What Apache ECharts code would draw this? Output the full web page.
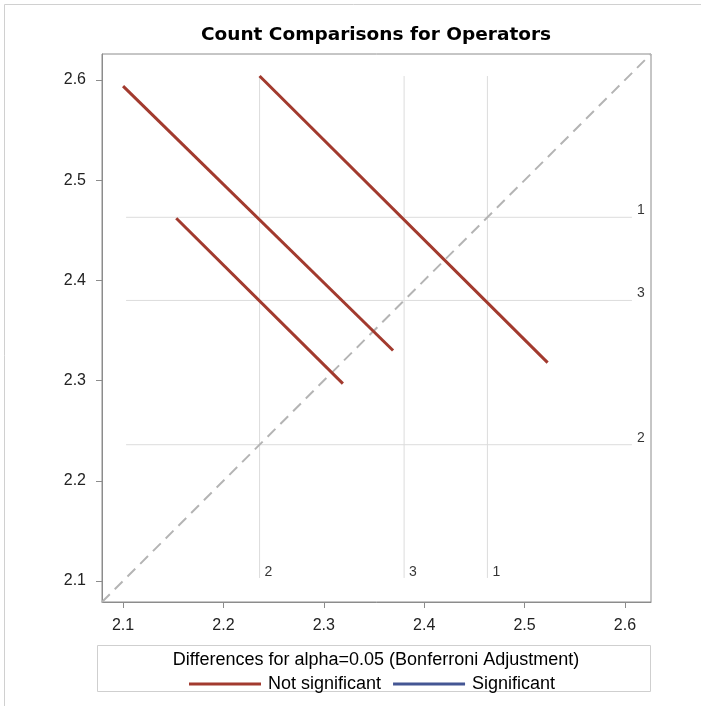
<!DOCTYPE html>
<html>
<head>
<meta charset="utf-8">
<script src="https://cdn.jsdelivr.net/npm/echarts@6/dist/echarts.min.js"></script>
<style>html,body{margin:0;padding:0;background:#fff}#c{width:701px;height:706px}</style>
</head>
<body>
<div id="c"></div>
<script>
// Level means (LS-means) for operators
const levels = ['1', '3', '2'];
const levelMeans = [2.463, 2.380, 2.236];
// Comparison segments (x = row mean, y = column mean), confidence interval endpoints
const compNames = ['2 vs 1', '3 vs 1', '2 vs 3'];
const segStartX = [2.100, 2.236, 2.153];
const segStartY = [2.594, 2.604, 2.462];
const segEndX   = [2.369, 2.523, 2.319];
const segEndY   = [2.330, 2.318, 2.297];
const significant = [false, false, false];
const tickValues = [2.1, 2.2, 2.3, 2.4, 2.5, 2.6];
const axisMin = 2.079, axisMax = 2.626;
const refLo = 2.103, refHiY = 2.604, refHiX = 2.607;

const RED = '#A23A2E', BLUE = '#445694';
const chart = echarts.init(document.getElementById('c'));
const series = [];

// reference lines
levels.forEach((lv, i) => {
  series.push({type:'line', silent:true, symbol:'none', z:1,
    lineStyle:{color:'#dcdcdc', width:1}, data:[[levelMeans[i], refLo],[levelMeans[i], refHiY]]});
  series.push({type:'line', silent:true, symbol:'none', z:1,
    lineStyle:{color:'#dcdcdc', width:1}, data:[[refLo, levelMeans[i]],[refHiX, levelMeans[i]]]});
});
// labels
series.push({type:'scatter', silent:true, symbolSize:0, z:5,
  data: levels.map((lv,i)=>({value:[refHiX, levelMeans[i]], name:lv})),
  label:{show:true, formatter:p=>p.name, position:'right', offset:[0,-7], color:'#000', fontSize:14, fontFamily:'Liberation Sans'}});
series.push({type:'scatter', silent:true, symbolSize:0, z:5,
  data: levels.map((lv,i)=>({value:[levelMeans[i], refLo], name:lv})),
  label:{show:true, formatter:p=>p.name, position:'right', offset:[0,-6], color:'#000', fontSize:14, fontFamily:'Liberation Sans'}});
// diagonal
series.push({type:'line', silent:true, symbol:'none', z:2,
  lineStyle:{color:'#b4b4b4', width:2, type:[11,7]}, data:[[axisMin, axisMin],[axisMax, axisMax]]});
// comparison segments
compNames.forEach((n, i) => {
  series.push({type:'line', name: significant[i] ? 'Significant' : 'Not significant', symbol:'none', z:4,
    color: significant[i] ? BLUE : RED,
    lineStyle:{color: significant[i] ? BLUE : RED, width:3},
    data:[[segStartX[i], segStartY[i]],[segEndX[i], segEndY[i]]]});
});
series.push({type:'line', name:'Significant', symbol:'none', color:BLUE, lineStyle:{color:BLUE, width:3}, data:[]});

const axisCommon = {
  type:'value', min:axisMin, max:axisMax,
  splitLine:{show:false},
  axisLine:{show:true, lineStyle:{color:'#8c8c8c'}},
  axisTick:{show:true, length:6, lineStyle:{color:'#8c8c8c'}, customValues:tickValues},
  axisLabel:{customValues:tickValues, color:'#222', fontSize:16, fontFamily:'Liberation Sans', formatter:v=>v.toFixed(1)}
};

chart.setOption({
  animation:false,
  title:{text:'Count Comparisons for Operators', left:371, textAlign:'center', top:21,
    textStyle:{fontFamily:'DejaVu Sans', fontWeight:'bold', fontSize:18.5, color:'#000'}},
  grid:{left:102, top:54, width:549, height:548, show:true, borderColor:'#8c8c8c', borderWidth:1},
  xAxis:Object.assign({}, axisCommon, {axisLabel:Object.assign({}, axisCommon.axisLabel, {margin:16})}),
  yAxis:Object.assign({}, axisCommon, {axisLabel:Object.assign({}, axisCommon.axisLabel, {margin:16})}),
  legend:{data:['Not significant','Significant'], left:184, top:670, icon:'rect', itemWidth:72, itemHeight:3, itemGap:12,
    textStyle:{fontFamily:'Liberation Sans', fontSize:18, color:'#000', padding:[0,0,0,2]}},
  graphic:[
    {type:'rect', shape:{x:4.5, y:4.5, width:720, height:720}, style:{fill:'none', stroke:'#d0d0d0', lineWidth:1}, silent:true},
    {type:'rect', shape:{x:97.5, y:645.5, width:553, height:46}, style:{fill:'none', stroke:'#cfcfcf', lineWidth:1}, silent:true},
    {type:'text', x:376, y:660, style:{text:'Differences for alpha=0.05 (Bonferroni Adjustment)', align:'center', verticalAlign:'middle',
      font:'18px "Liberation Sans"', fill:'#000'}}
  ],
  series: series
});
</script>
</body>
</html>
